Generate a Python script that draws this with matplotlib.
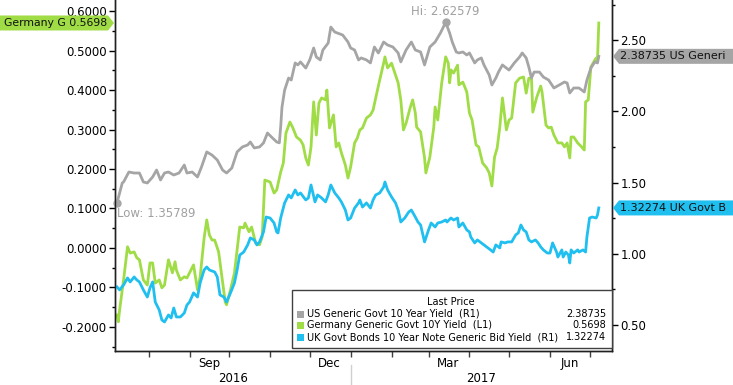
import numpy as np
import pandas as pd
import matplotlib
matplotlib.use("Agg")
import matplotlib.pyplot as plt
import matplotlib.transforms as mtransforms
from matplotlib.patches import Polygon, Rectangle
from matplotlib.ticker import MultipleLocator, FormatStrFormatter, FixedLocator, NullFormatter

plt.rcParams['font.family'] = 'DejaVu Sans'
plt.rcParams['axes.unicode_minus'] = False

# observation days counted from the first date on the chart
start = pd.Timestamp("2016-07-08")

us_day = [0, 4, 5, 9, 13, 17, 20, 23, 27, 30,
          33, 36, 39, 43, 47, 51, 53, 57, 61, 64,
          68, 72, 76, 80, 83, 87, 91, 95, 99, 101,
          104, 108, 111, 114, 117, 121, 123, 124, 125, 127,
          130, 132, 135, 137, 139, 143, 146, 149, 151, 154,
          156, 160, 162, 165, 167, 171, 175, 177, 180, 183,
          185, 189, 192, 195, 198, 202, 205, 209, 213, 215,
          219, 223, 226, 230, 233, 237, 241, 245, 249, 252,
          254, 257, 259, 262, 265, 267, 271, 273, 276, 278,
          282, 284, 287, 289, 292, 295, 297, 301, 305, 307,
          310, 312, 314, 316, 320, 323, 327, 331, 335, 339,
          341, 343, 346, 350, 354, 356, 359, 362, 364, 365]
us_val = [1.35789, 1.498, 1.505, 1.575, 1.568, 1.568, 1.505, 1.498, 1.540, 1.589,
          1.519, 1.568, 1.575, 1.554, 1.568, 1.624, 1.568, 1.575, 1.540, 1.610,
          1.716, 1.694, 1.659, 1.589, 1.568, 1.603, 1.716, 1.751, 1.765, 1.786,
          1.744, 1.751, 1.779, 1.849, 1.821, 1.786, 1.780, 1.891, 2.031, 2.150,
          2.235, 2.221, 2.341, 2.327, 2.348, 2.305, 2.362, 2.446, 2.383, 2.362,
          2.432, 2.481, 2.593, 2.558, 2.551, 2.537, 2.488, 2.446, 2.432, 2.362,
          2.376, 2.362, 2.341, 2.453, 2.411, 2.488, 2.467, 2.453, 2.411, 2.348,
          2.432, 2.488, 2.432, 2.418, 2.327, 2.453, 2.488, 2.551, 2.62579, 2.551,
          2.488, 2.418, 2.411, 2.418, 2.397, 2.411, 2.341, 2.362, 2.376, 2.327,
          2.256, 2.186, 2.235, 2.277, 2.327, 2.305, 2.291, 2.341, 2.383, 2.411,
          2.376, 2.312, 2.235, 2.277, 2.277, 2.242, 2.221, 2.165, 2.186, 2.207,
          2.200, 2.130, 2.165, 2.165, 2.137, 2.221, 2.305, 2.348, 2.341, 2.38735]

de_day = [0, 1, 2, 5, 8, 10, 13, 15, 17, 20,
          23, 25, 27, 29, 32, 34, 36, 39, 42, 44,
          45, 48, 51, 53, 55, 58, 61, 63, 66, 68,
          70, 72, 74, 77, 80, 82, 83, 86, 89, 91,
          93, 96, 97, 100, 102, 105, 108, 110, 112, 116,
          119, 121, 124, 126, 128, 131, 133, 136, 139, 141,
          143, 145, 147, 149, 151, 153, 155, 158, 159, 161,
          164, 166, 168, 170, 173, 175, 177, 180, 182, 184,
          186, 189, 192, 194, 196, 199, 202, 203, 205, 208,
          211, 213, 215, 217, 219, 222, 224, 226, 227, 230,
          233, 234, 237, 240, 241, 243, 246, 249, 251, 252,
          253, 255, 258, 259, 262, 265, 267, 269, 272, 274,
          277, 280, 282, 284, 286, 288, 290, 292, 295, 297,
          299, 302, 305, 308, 310, 312, 314, 315, 318, 321,
          322, 325, 327, 329, 331, 334, 337, 339, 341, 343,
          344, 346, 349, 352, 354, 355, 357, 359, 362, 363,
          364, 365]
de_val = [-0.170, -0.187, -0.157, -0.081, 0.003, -0.013, -0.010, -0.025, -0.030, -0.081,
          -0.094, -0.038, -0.038, -0.089, -0.081, -0.101, -0.094, -0.030, -0.063, -0.035,
          -0.056, -0.081, -0.073, -0.076, -0.063, -0.043, -0.106, -0.073, 0.025, 0.071,
          0.033, 0.020, 0.020, -0.010, -0.086, -0.137, -0.144, -0.106, -0.063, -0.005,
          0.053, 0.051, 0.063, 0.041, 0.053, 0.013, 0.008, 0.028, 0.172, 0.167,
          0.139, 0.147, 0.192, 0.215, 0.291, 0.319, 0.306, 0.281, 0.273, 0.261,
          0.228, 0.210, 0.256, 0.370, 0.286, 0.367, 0.380, 0.375, 0.400, 0.304,
          0.337, 0.256, 0.266, 0.241, 0.210, 0.177, 0.205, 0.266, 0.278, 0.299,
          0.304, 0.329, 0.337, 0.349, 0.380, 0.425, 0.468, 0.484, 0.456, 0.468,
          0.438, 0.418, 0.375, 0.299, 0.316, 0.354, 0.375, 0.342, 0.306, 0.294,
          0.228, 0.190, 0.230, 0.306, 0.357, 0.324, 0.418, 0.484, 0.468, 0.418,
          0.451, 0.443, 0.463, 0.413, 0.420, 0.395, 0.342, 0.324, 0.261, 0.256,
          0.215, 0.203, 0.190, 0.157, 0.230, 0.253, 0.306, 0.380, 0.299, 0.324,
          0.329, 0.418, 0.430, 0.433, 0.392, 0.430, 0.430, 0.344, 0.382, 0.410,
          0.395, 0.311, 0.304, 0.306, 0.286, 0.266, 0.266, 0.256, 0.266, 0.228,
          0.281, 0.281, 0.266, 0.256, 0.248, 0.370, 0.375, 0.458, 0.476, 0.481,
          0.476, 0.5698]

uk_day = [0, 2, 5, 8, 10, 13, 15, 17, 20, 23,
          25, 27, 29, 32, 34, 36, 39, 41, 43, 45,
          48, 51, 53, 55, 58, 61, 63, 66, 68, 70,
          74, 76, 78, 81, 83, 86, 89, 91, 93, 96,
          99, 101, 104, 106, 108, 111, 113, 116, 119, 121,
          122, 124, 127, 130, 132, 135, 137, 139, 143, 145,
          147, 150, 152, 155, 158, 160, 162, 165, 168, 170,
          173, 175, 177, 180, 183, 184, 186, 189, 192, 194,
          196, 199, 202, 203, 205, 208, 211, 213, 215, 218,
          221, 223, 226, 228, 230, 233, 236, 238, 241, 243,
          246, 249, 250, 253, 255, 258, 259, 262, 265, 267,
          268, 271, 273, 276, 278, 280, 283, 285, 287, 290,
          291, 294, 296, 299, 302, 304, 306, 308, 310, 312,
          314, 317, 319, 321, 323, 326, 328, 330, 333, 334,
          337, 338, 340, 342, 343, 344, 346, 349, 350, 353,
          355, 356, 358, 360, 363, 364, 365]
uk_val = [0.768, 0.747, 0.782, 0.831, 0.803, 0.838, 0.817, 0.803, 0.747, 0.697,
          0.761, 0.803, 0.662, 0.606, 0.536, 0.522, 0.571, 0.550, 0.620, 0.557,
          0.557, 0.585, 0.641, 0.662, 0.726, 0.697, 0.796, 0.887, 0.908, 0.887,
          0.873, 0.838, 0.712, 0.697, 0.662, 0.726, 0.796, 0.887, 0.992, 1.013,
          1.063, 1.112, 1.098, 1.063, 1.084, 1.154, 1.259, 1.252, 1.217, 1.154,
          1.147, 1.252, 1.358, 1.414, 1.393, 1.449, 1.414, 1.428, 1.379, 1.393,
          1.484, 1.365, 1.414, 1.393, 1.365, 1.414, 1.484, 1.428, 1.393, 1.365,
          1.308, 1.238, 1.252, 1.322, 1.358, 1.379, 1.329, 1.358, 1.322, 1.379,
          1.414, 1.428, 1.470, 1.505, 1.449, 1.400, 1.358, 1.308, 1.224, 1.252,
          1.294, 1.308, 1.259, 1.224, 1.203, 1.084, 1.168, 1.217, 1.189, 1.217,
          1.224, 1.238, 1.224, 1.252, 1.238, 1.252, 1.189, 1.217, 1.168, 1.154,
          1.119, 1.077, 1.098, 1.077, 1.063, 1.049, 1.028, 1.013, 1.063, 1.042,
          1.084, 1.077, 1.084, 1.084, 1.133, 1.147, 1.203, 1.168, 1.154, 1.098,
          1.084, 1.098, 1.077, 1.049, 1.028, 1.006, 1.006, 1.077, 1.013, 0.978,
          1.028, 0.978, 1.013, 0.992, 0.936, 1.028, 1.006, 1.028, 1.013, 1.028,
          1.013, 1.119, 1.252, 1.259, 1.252, 1.273, 1.32274]

legend_names = ["US Generic Govt 10 Year Yield  (R1)",
                "Germany Generic Govt 10Y Yield  (L1)",
                "UK Govt Bonds 10 Year Note Generic Bid Yield  (R1)"]
tag_names = ["US Generi", "Germany G", "UK Govt B"]
month_labels = ["Sep", "Dec", "Mar", "Jun"]
month_label_dates = ["2016-09-16", "2016-12-16", "2017-03-16", "2017-06-16"]
year_labels = ["2016", "2017"]

c_us = "#a5a5a5"
c_de = "#9fdc45"
c_uk = "#1fbff0"

us_dates = start + pd.to_timedelta(us_day, unit="D")
de_dates = start + pd.to_timedelta(de_day, unit="D")
uk_dates = start + pd.to_timedelta(uk_day, unit="D")

W, H = 733, 385
fig = plt.figure(figsize=(W / 100, H / 100), dpi=100)
ax = fig.add_axes([115 / W, 1 - 351 / H, (612 - 115) / W, 351 / H])
ax2 = ax.twinx()

ax.plot(de_dates, de_val, color=c_de, lw=2.0)
ax2.plot(us_dates, us_val, color=c_us, lw=2.0)
ax2.plot(uk_dates, uk_val, color=c_uk, lw=2.0)

x0 = start - pd.Timedelta(days=1.5)
x1 = start + pd.Timedelta(days=375)
ax.set_xlim(x0, x1)
ax.set_ylim(-0.261, 0.628)
ax2.set_ylim(0.318, 2.783)

for a in (ax, ax2):
    a.spines['top'].set_visible(False)
    for s in ('left', 'right', 'bottom'):
        a.spines[s].set_color('#202020')
        a.spines[s].set_linewidth(1.0)

ax.yaxis.set_major_locator(MultipleLocator(0.1))
ax.yaxis.set_minor_locator(MultipleLocator(0.05))
ax.yaxis.set_major_formatter(FormatStrFormatter('%.4f'))
ax2.yaxis.set_major_locator(MultipleLocator(0.5))
ax2.yaxis.set_minor_locator(MultipleLocator(0.25))
ax2.yaxis.set_major_formatter(FormatStrFormatter('%.2f'))
for a in (ax, ax2):
    a.tick_params(axis='y', which='major', direction='out', length=4, width=1, labelsize=8.5, pad=2)
    a.tick_params(axis='y', which='minor', direction='out', length=2.5, width=1)

# month boundaries as ticks, month names centred in the month
month_starts = pd.date_range("2016-08-01", "2017-07-01", freq="MS")
ax.xaxis.set_major_locator(FixedLocator(matplotlib.dates.date2num(month_starts)))
ax.xaxis.set_major_formatter(NullFormatter())
ax.xaxis.set_minor_locator(FixedLocator(matplotlib.dates.date2num(pd.to_datetime(month_label_dates))))
ax.xaxis.set_minor_formatter(matplotlib.ticker.FixedFormatter(month_labels))
ax.tick_params(axis='x', which='major', direction='out', length=4, width=1, color='#404040')
ax.tick_params(axis='x', which='minor', length=0, labelsize=8.5, pad=4)

# year row
blend = mtransforms.blended_transform_factory(ax.transData, ax.transAxes)
jan1 = pd.Timestamp("2017-01-01")
y_mid = [x0 + (jan1 - x0) / 2, jan1 + (x1 - jan1) / 2]
for lab, xm in zip(year_labels, y_mid):
    ax.text(xm, -0.077, lab, transform=blend, ha='center', va='center', fontsize=8.5)
ax.plot([jan1, jan1], [-0.04, -0.1], transform=blend, color='#d0d0d0', lw=1, clip_on=False)

# high / low markers on the US series
i_hi = int(np.argmax(us_val))
i_lo = int(np.argmin(us_val))
ax2.plot([us_dates[i_hi], us_dates[i_lo]], [us_val[i_hi], us_val[i_lo]], 'o',
         color=c_us, ms=5, clip_on=False)
ax2.annotate(f"Hi: {us_val[i_hi]:.5f}", (us_dates[i_hi], us_val[i_hi]), xytext=(0, 4),
             textcoords='offset pixels', ha='center', va='bottom', fontsize=8.5, color='#a0a0a0')
ax2.annotate(f"Low: {us_val[i_lo]:.5f}", (us_dates[i_lo], us_val[i_lo]), xytext=(0, -4),
             textcoords='offset pixels', ha='left', va='top', fontsize=8.5, color='#a0a0a0')

# overlay in figure pixels for legend and value tags
ov = fig.add_axes([0, 0, 1, 1], zorder=10)
ov.set_xlim(0, W)
ov.set_ylim(0, H)
ov.axis('off')
ov.patch.set_visible(False)

ov.add_patch(Rectangle((292, H - 348), 612 - 292, 58, facecolor='white', edgecolor='#404040', lw=1))
ov.text(451, H - 302, "Last Price", ha='center', va='center', fontsize=7)
last_vals = [f"{us_val[-1]:.5f}", f"{de_val[-1]:.4f}", f"{uk_val[-1]:.5f}"]
for k, (name, col, val) in enumerate(zip(legend_names, [c_us, c_de, c_uk], last_vals)):
    yy = H - (314 + 11.5 * k)
    ov.add_patch(Rectangle((297, yy - 3.5), 7, 7, facecolor=col, edgecolor='none'))
    ov.text(307, yy, name, ha='left', va='center', fontsize=7)
    ov.text(606, yy, val, ha='right', va='center', fontsize=7)

xl = matplotlib.dates.date2num(x1)
y_us = ax2.transData.transform((xl, us_val[-1]))[1]
y_uk = ax2.transData.transform((xl, uk_val[-1]))[1]
y_de = ax.transData.transform((xl, de_val[-1]))[1]

for yv, col, txt in [(y_us, c_us, f"{us_val[-1]:.5f} {tag_names[0]}"),
                     (y_uk, c_uk, f"{uk_val[-1]:.5f} {tag_names[2]}")]:
    ov.add_patch(Polygon([(613, yv), (619, yv + 7.5), (W, yv + 7.5), (W, yv - 7.5), (619, yv - 7.5)],
                         closed=True, facecolor=col, edgecolor='none'))
    ov.text(620, yv, txt, ha='left', va='center', fontsize=8, color='#111111')

ov.add_patch(Polygon([(0, y_de + 7.5), (108, y_de + 7.5), (114, y_de), (108, y_de - 7.5), (0, y_de - 7.5)],
                     closed=True, facecolor=c_de, edgecolor='none'))
ov.text(107, y_de, f"{tag_names[1]} {de_val[-1]:.4f}", ha='right', va='center', fontsize=7.8, color='#111111')

fig.savefig("out.png", dpi=100)
